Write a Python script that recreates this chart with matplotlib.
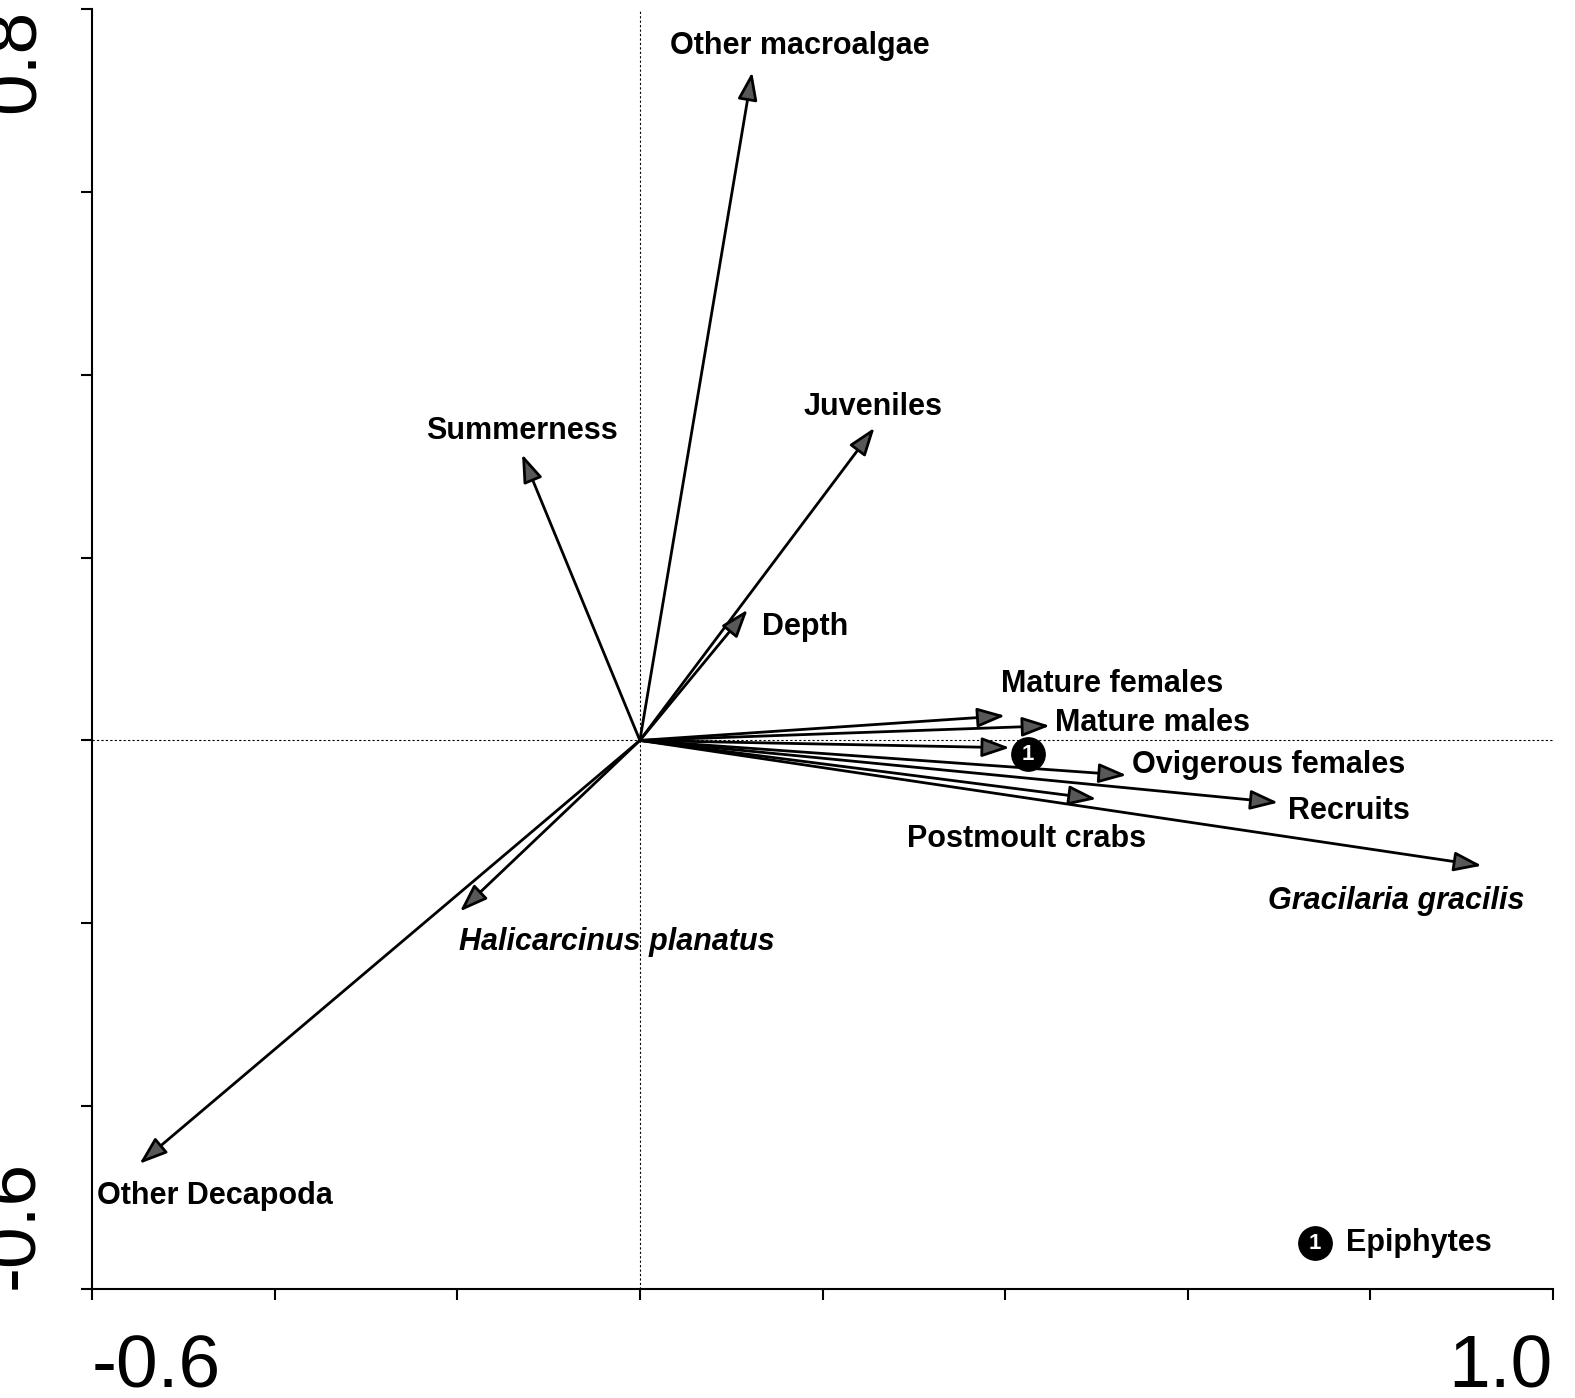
import matplotlib.pyplot as plt

plt.rcParams["font.family"] = ["Liberation Sans", "DejaVu Sans"]

names = ["Other macroalgae", "Summerness", "Juveniles", "Depth", "Mature females",
         "Mature males", "Epiphytes", "Ovigerous females", "Recruits",
         "Postmoult crabs", "Gracilaria gracilis", "Halicarcinus planatus", "Other Decapoda"]
tip_x = [0.123, -0.129, 0.257, 0.118, 0.400, 0.449, 0.405, 0.533, 0.699, 0.500, 0.922, -0.197, -0.548]
tip_y = [0.731, 0.313, 0.342, 0.143, 0.027, 0.016, -0.008, -0.038, -0.068, -0.064, -0.137, -0.187, -0.463]
lab_x = [0.175, -0.129, 0.255, 0.134, 0.517, 0.455, None, 0.539, 0.710, 0.424, 0.828, -0.025, -0.594]
lab_y = [0.759, 0.338, 0.365, 0.124, 0.062, 0.019, None, -0.027, -0.077, -0.108, -0.176, -0.220, -0.498]
lab_ha = ["center", "center", "center", "left", "center", "left", None, "left", "left",
          "center", "center", "center", "left"]
italic = {"Gracilaria gracilis", "Halicarcinus planatus"}

fig = plt.figure(figsize=(15.75, 13.98), dpi=100)
ax = fig.add_axes([92 / 1575, 1 - 1289 / 1398, 1461 / 1575, 1280 / 1398])
ax.set_xlim(-0.6, 1.0)
ax.set_ylim(-0.6, 0.8)
ax.axhline(0, color="black", lw=0.8, ls=(0, (2, 2)))
ax.axvline(0, color="black", lw=0.8, ls=(0, (2, 2)))

for name, tx, ty, lx, ly, ha in zip(names, tip_x, tip_y, lab_x, lab_y, lab_ha):
    ax.annotate("", xy=(tx, ty), xytext=(0, 0),
                arrowprops=dict(arrowstyle="-|>,head_length=1.7,head_width=0.6",
                                fc="#585858", ec="black", lw=2, shrinkA=0, shrinkB=0))
    if lx is not None:
        ax.text(lx, ly, name, ha=ha, va="center", fontsize=22, fontweight="bold",
                fontstyle="italic" if name in italic else "normal")

# epiphytes marker near arrow tip and legend
for mx, my in [(0.425, -0.015), (0.739, -0.550)]:
    ax.plot(mx, my, "o", color="black", ms=24)
    ax.text(mx, my, "1", color="white", ha="center", va="center", fontsize=16, fontweight="bold")
ax.text(0.773, -0.550, "Epiphytes", ha="left", va="center", fontsize=22, fontweight="bold")

ticks_x = [-0.6, -0.4, -0.2, 0.0, 0.2, 0.4, 0.6, 0.8, 1.0]
ticks_y = [-0.6, -0.4, -0.2, 0.0, 0.2, 0.4, 0.6, 0.8]
ax.set_xticks(ticks_x)
ax.set_xticklabels([])
ax.set_yticks(ticks_y)
ax.set_yticklabels([])
ax.text(0, -0.035, "-0.6", transform=ax.transAxes, ha="left", va="top", fontsize=54)
ax.text(1, -0.035, "1.0", transform=ax.transAxes, ha="right", va="top", fontsize=54)
ax.text(-0.03, 1, "0.8", transform=ax.transAxes, ha="right", va="top", fontsize=54, rotation=90)
ax.text(-0.03, 0, "-0.6", transform=ax.transAxes, ha="right", va="bottom", fontsize=54, rotation=90)
ax.tick_params(direction="out", length=8, width=1.5)
for s in ax.spines.values():
    s.set_linewidth(1.5)
ax.spines["top"].set_visible(False)
ax.spines["right"].set_visible(False)

fig.savefig("out.png", dpi=100)
